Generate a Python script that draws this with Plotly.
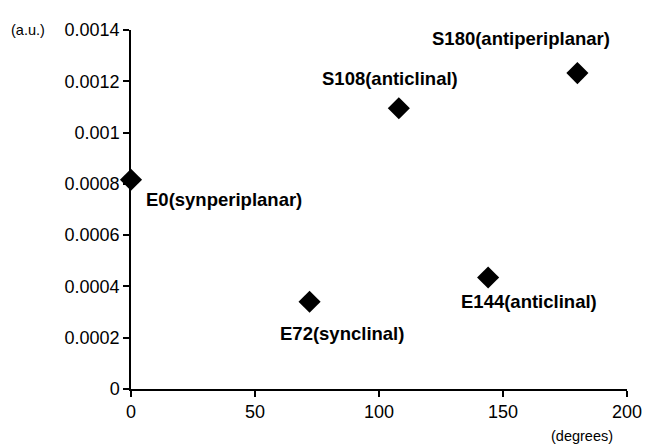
import plotly.graph_objects as go

angles = [0, 72, 108, 144, 180]
values = [0.000816, 0.00034, 0.001095, 0.000435, 0.001232]
labels = ["E0(synperiplanar)", "E72(synclinal)", "S108(anticlinal)",
          "E144(anticlinal)", "S180(antiperiplanar)"]
label_shift = [(13, -20, "left"), (32, -32, "center"), (-9, 30, "center"),
               (41, -24, "center"), (-56, 35, "center")]

FONT = "Liberation Sans, Arial, sans-serif"

fig = go.Figure()
fig.add_trace(go.Scatter(x=angles, y=values, mode="markers",
                         marker=dict(symbol="diamond", size=17, color="black"),
                         cliponaxis=False, showlegend=False, hoverinfo="x+y"))

for x, y, t, (dx, dy, anc) in zip(angles, values, labels, label_shift):
    fig.add_annotation(x=x, y=y, text="<b>" + t + "</b>", showarrow=False,
                       xshift=dx, yshift=dy, xanchor=anc, yanchor="middle",
                       font=dict(family=FONT, size=18.5, color="black"))

fig.add_annotation(xref="paper", yref="paper", x=-0.207, y=1.0, text="(a.u.)",
                   showarrow=False, xanchor="center", yanchor="middle",
                   font=dict(family=FONT, size=14.5, color="black"))
fig.add_annotation(xref="paper", yref="paper", x=0.909, y=-0.131, text="(degrees)",
                   showarrow=False, xanchor="center", yanchor="middle",
                   font=dict(family=FONT, size=14.5, color="black"))

fig.update_layout(
    width=646, height=439,
    margin=dict(l=123, r=18, t=14, b=58),
    plot_bgcolor="white", paper_bgcolor="white",
    font=dict(family=FONT, size=18, color="black"),
    xaxis=dict(range=[0, 200], dtick=50, showgrid=False, zeroline=False,
               showline=True, linecolor="black", linewidth=1.5,
               ticks="outside", ticklen=6, tickwidth=1.5, tickcolor="black"),
    yaxis=dict(range=[0, 0.0014], dtick=0.0002, showgrid=False, zeroline=False,
               showline=True, linecolor="black", linewidth=1.5,
               ticks="outside", ticklen=6, tickwidth=1.5, tickcolor="black",
               tickformat="~r"),
)
fig.write_html("out.html")
